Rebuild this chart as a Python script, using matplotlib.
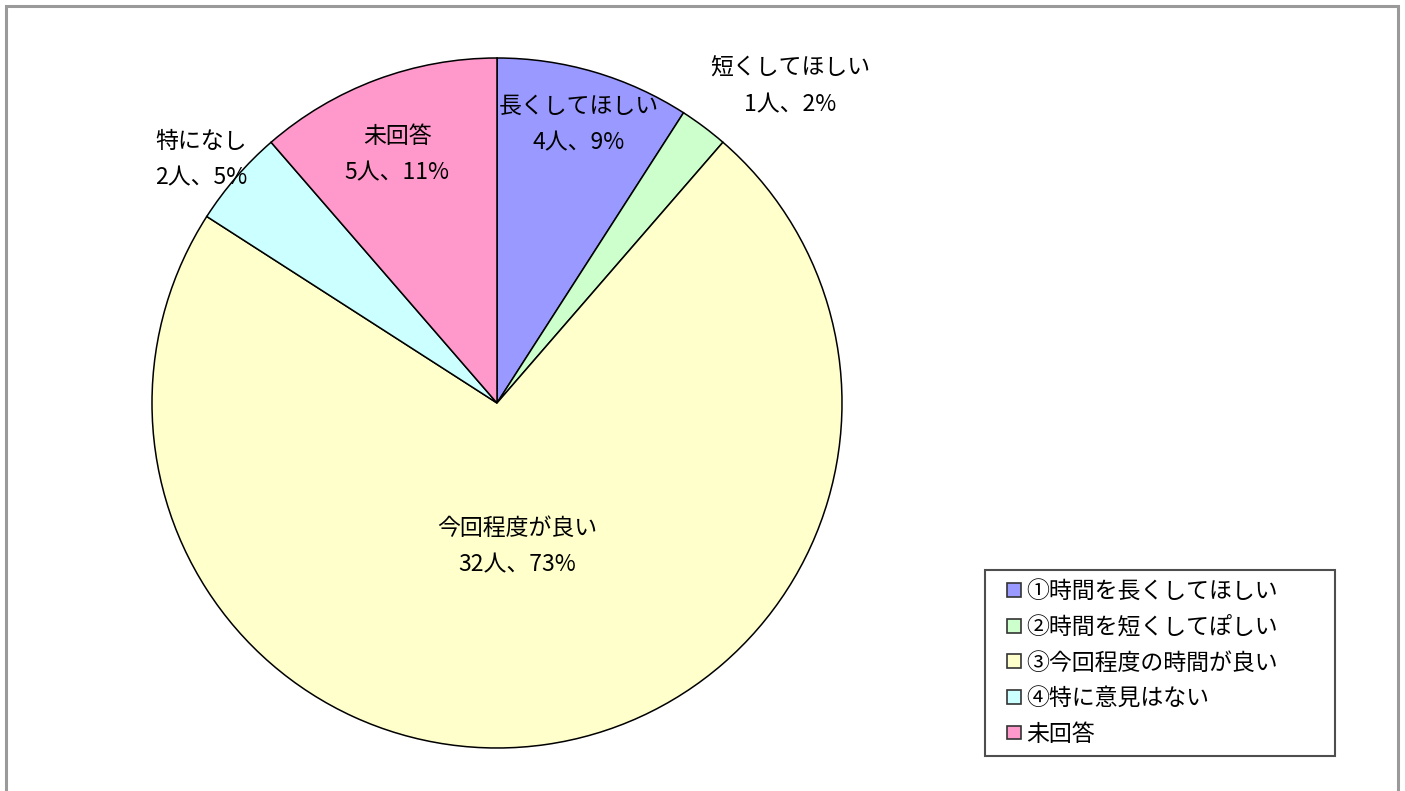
import matplotlib.pyplot as plt
import matplotlib.patches as mpatches
from matplotlib.legend_handler import HandlerPatch
import numpy as np

plt.rcParams['font.family'] = ['Noto Sans CJK JP', 'DejaVu Sans']

# data
legend_labels = ['①時間を長くしてほしい', '②時間を短くしてぽしい', '③今回程度の時間が良い',
                 '④特に意見はない', '未回答']
short_labels = ['長くしてほしい', '短くしてほしい', '今回程度が良い', '特になし', '未回答']
counts = [4, 1, 32, 2, 5]
colors = ['#9999FF', '#CCFFCC', '#FFFFCC', '#CCFFFF', '#FF99CC']

W, H = 1405, 791
fig = plt.figure(figsize=(W / 100, H / 100), dpi=100)

# outer grey frame
fig.patches.append(mpatches.Rectangle((6 / W, -0.05), 1392 / W, 1.05 - 6 / H,
                                      transform=fig.transFigure, fill=False,
                                      edgecolor='#9a9a9a', linewidth=2.2))

ax = fig.add_axes([152 / W, 43 / H, 690 / W, 690 / H])
wedges, _ = ax.pie(counts, colors=colors, startangle=90, counterclock=False,
                   radius=1, wedgeprops=dict(edgecolor='black', linewidth=1.1))
ax.set_xlim(-1, 1)
ax.set_ylim(-1, 1)
ax.set_aspect('equal')
ax.axis('off')

# label placement: (radius, angle adjustment in degrees)
label_pos = [(0.84, 0), (1.25, -6), (0.42, 0), (1.11, 1.5), (0.775, 1.5)]
total = sum(counts)
for w, lab, n, (r, da) in zip(wedges, short_labels, counts, label_pos):
    ang = np.deg2rad((w.theta1 + w.theta2) / 2 + da)
    pct = round(100 * n / total)
    ax.text(r * np.cos(ang), r * np.sin(ang), f'{lab}\n{n}人、{pct}%',
            ha='center', va='center', fontsize=16.5, linespacing=1.75)


class SquareHandler(HandlerPatch):
    # small square sitting at the right end of the handle box
    def create_artists(self, legend, orig_handle, xdescent, ydescent,
                       width, height, fontsize, trans):
        s = 10
        p = mpatches.Rectangle((width - s - xdescent, (height - s) / 2 - ydescent), s, s,
                               facecolor=orig_handle.get_facecolor(),
                               edgecolor=orig_handle.get_edgecolor(), linewidth=1.2,
                               transform=trans)
        return [p]


handles = [mpatches.Patch(facecolor=c, edgecolor='#333333') for c in colors]
leg = fig.legend(handles, legend_labels, loc='lower left', mode='expand',
                 bbox_to_anchor=(985 / W, (H - 756) / H, 350 / W, 0.2), fontsize=16.5,
                 frameon=True, fancybox=False, handlelength=1.1, handleheight=0.5,
                 handletextpad=0.25, labelspacing=0.55, borderpad=0.45, borderaxespad=0,
                 handler_map={mpatches.Patch: SquareHandler()})
leg.get_frame().set_edgecolor('#222222')
leg.get_frame().set_linewidth(1.5)

fig.savefig('out.png', dpi=100)
